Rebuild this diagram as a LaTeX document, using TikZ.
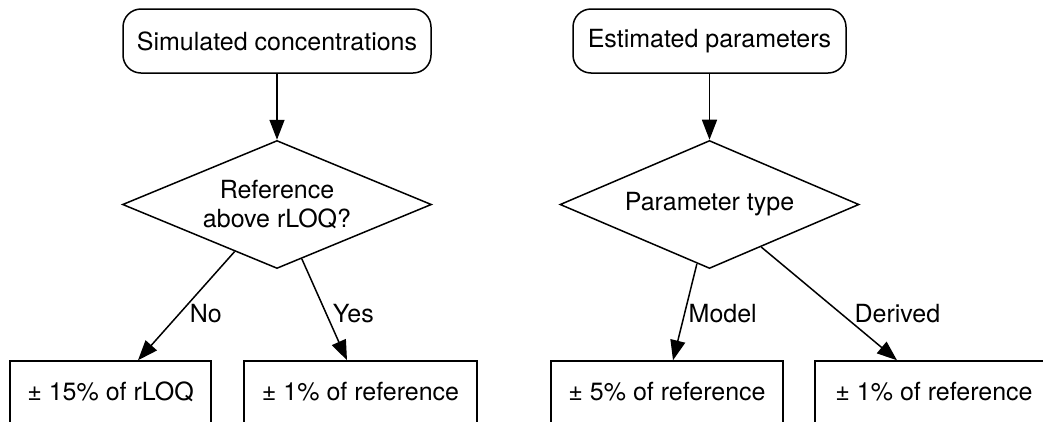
\documentclass[tikz,border=0pt]{standalone}
\usepackage{fontspec}
\setmainfont{TeX Gyre Heros}
\usetikzlibrary{arrows.meta,positioning,calc,shapes.geometric}

\begin{document}
\begin{tikzpicture}[
    x=1pt, y=-1pt,
    >={Triangle[length=20pt,width=15pt]},
    line width=1.5pt,
    every node/.style={font=\fontsize{25}{29}\selectfont},
    source/.style={draw, rounded corners=18pt, minimum height=64pt, inner sep=0pt},
    decision/.style={draw, diamond, aspect=2.4, minimum height=128pt, inner sep=0pt, align=center},
    outcome/.style={draw, minimum height=62pt, inner sep=0pt},
    branch/.style={right, inner sep=0pt},
]

\useasboundingbox (0,0) rectangle (1043,421);
\clip (0,0) rectangle (1043,421);

\node[source, minimum width=308pt] (simconc) at (277,41) {Simulated concentrations};
\node[source, minimum width=273pt] (estpar) at (709.5,41) {Estimated parameters};

\node[decision, minimum width=309pt, below=66pt of simconc] (refq) {Reference\\above rLOQ?};
\node[decision, minimum width=299pt, below=66pt of estpar] (ptype) {Parameter type};

\node[outcome, minimum width=201pt] (lloq) at (110.5,392) {± 15\% of rLOQ};
\node[outcome, minimum width=233pt] (lref) at (360.5,392) {± 1\% of reference};
\node[outcome, minimum width=232pt] (rmod) at (667,392) {± 5\% of reference};
\node[outcome, minimum width=238pt] (rder) at (934,392) {± 1\% of reference};

\draw[->] (simconc) -- (refq);
\draw[->] (estpar) -- (ptype);

\draw[->] ($(refq.west)!0.727!(refq.south)$) -- node[branch, pos=.57, xshift=9.5pt] (lblno) {No} ([xshift=27.5pt]lloq.north);
\draw[->] ($(refq.south)!0.16!(refq.east)$) -- node[branch, pos=.54, xshift=6pt] (lblyes) {Yes} ([xshift=-13.5pt]lref.north);
\draw[->] ($(ptype.west)!0.916!(ptype.south)$) -- node[branch, pos=.52, xshift=3.5pt] (lblmod) {Model} ([xshift=6pt]rmod.north);
\draw[->] ($(ptype.south)!0.344!(ptype.east)$) -- node[branch, pos=.59, xshift=12.5pt] (lblder) {Derived} ([xshift=-37pt]rder.north);

\end{tikzpicture}
\end{document}
